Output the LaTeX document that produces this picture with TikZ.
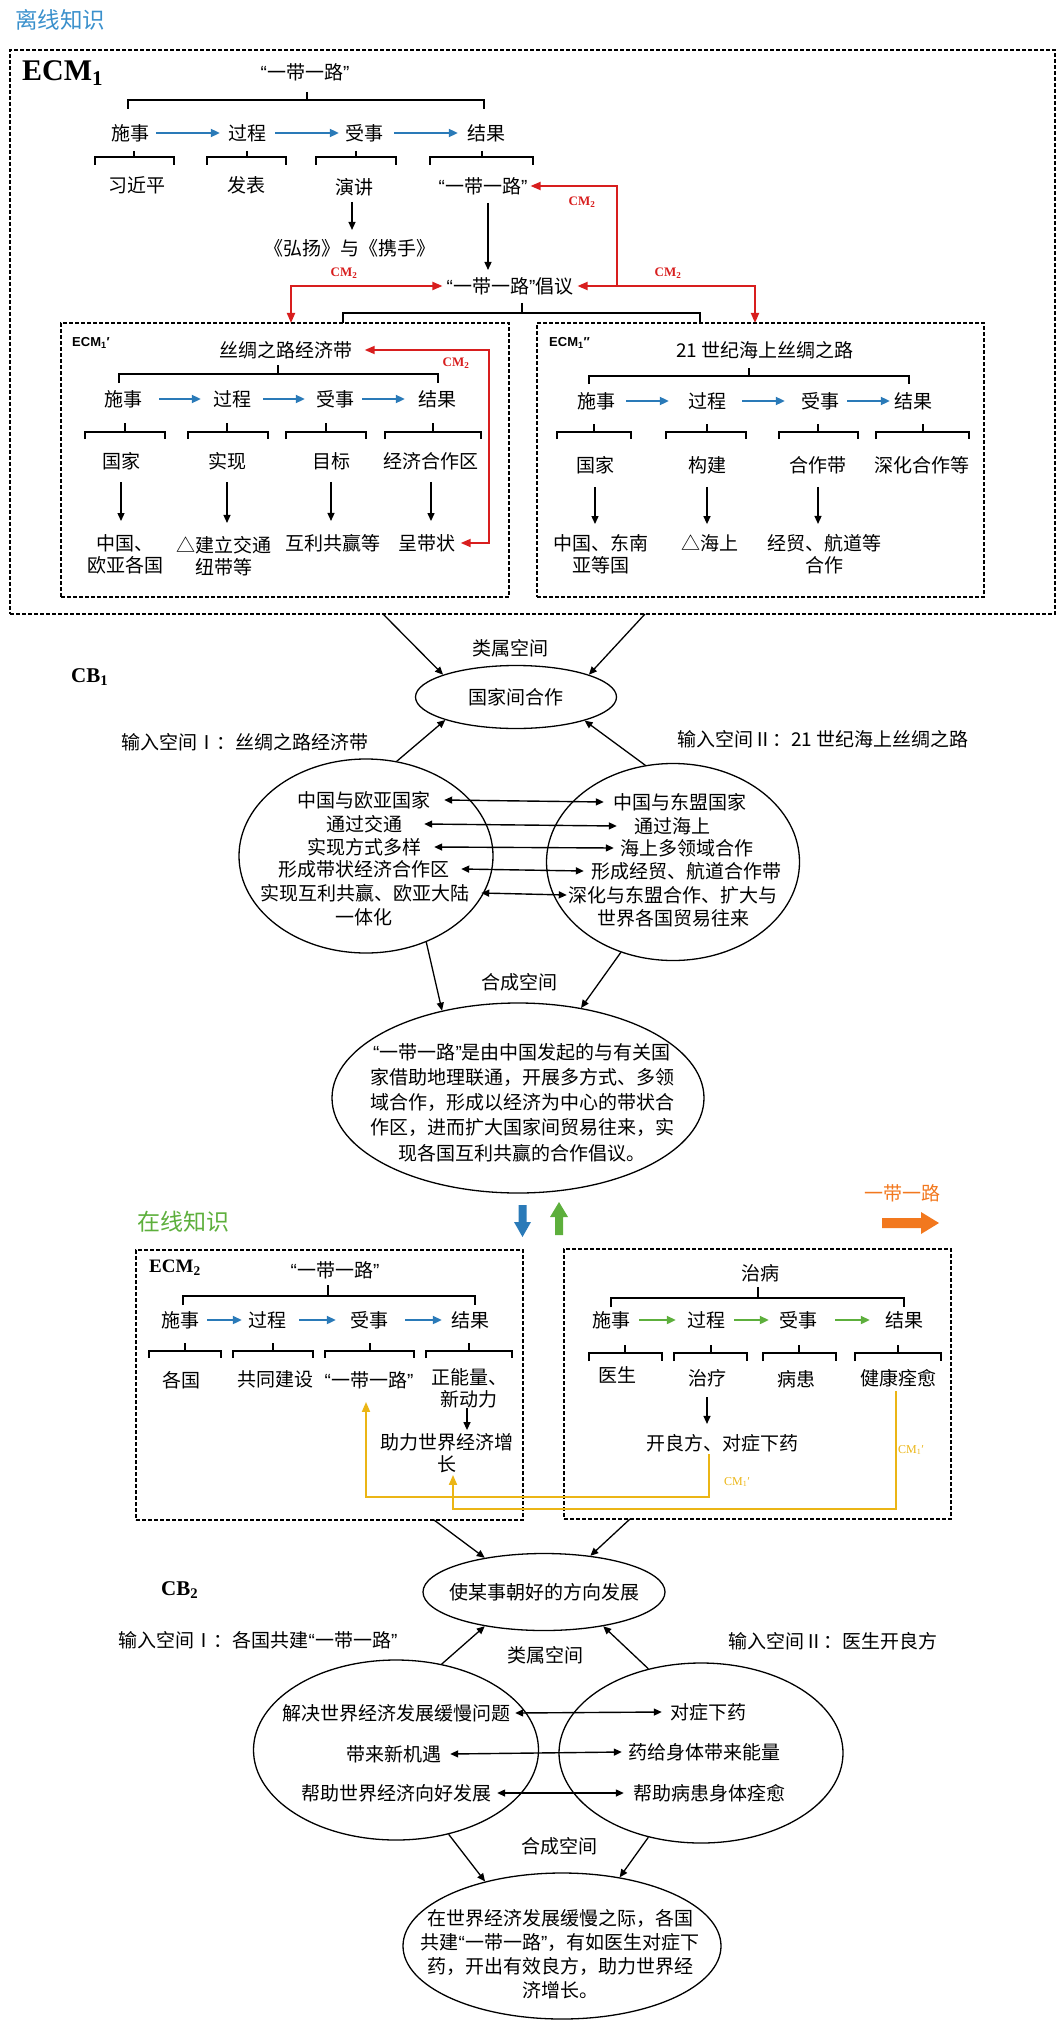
\documentclass[tikz,border=0pt]{standalone}
\usepackage{fontspec}
\setmainfont{Noto Sans CJK SC}
\newfontfamily\tnr{Liberation Serif}
\newfontfamily\ari{Liberation Sans}
\usetikzlibrary{arrows.meta,shapes.geometric}
\definecolor{bl}{HTML}{2A7AB8}
\definecolor{rd}{HTML}{D81E1E}
\definecolor{yl}{HTML}{EBB515}
\definecolor{gr}{HTML}{5DAF3C}
\definecolor{og}{HTML}{F2781E}
\definecolor{tb}{HTML}{3A90CC}
\newcommand\qq[1]{{\ari“}#1{\ari”}}
\newcommand\brkt[6]{\draw[brk] (#1,#6) -- (#1,#5) -- (#2,#5) -- (#2,#6); \draw[brk] (#3,#4) -- (#3,#5);}
\begin{document}
\begin{tikzpicture}[x=1pt,y=-1pt,
  tx/.style={inner sep=0pt,font=\fontsize{19}{22}\selectfont,align=center},
  brk/.style={line width=1.5pt},
  dbox/.style={draw,line width=1.5pt,dash pattern=on 4pt off 2pt,inner sep=0pt},
  karr/.style={line width=1.3pt,-{Triangle[length=8pt,width=7pt]}},
  darr/.style={line width=1.4pt,{Triangle[length=8pt,width=7pt]}-{Triangle[length=8pt,width=7pt]}},
  barr/.style={draw=bl,line width=2pt,-{Triangle[length=9pt,width=8pt]}},
  garr/.style={draw=gr,line width=2pt,-{Triangle[length=9pt,width=8pt]}},
  redln/.style={draw=rd,line width=1.8pt},
  rtip/.style={-{Triangle[length=10pt,width=8pt]}},
  rtip2/.style={{Triangle[length=10pt,width=8pt]}-{Triangle[length=10pt,width=8pt]}},
  yln/.style={draw=yl,line width=1.8pt,-{Triangle[length=10pt,width=8pt]}},
  ellnode/.style={draw,ellipse,line width=1.3pt,inner sep=0pt},
  cmlab/.style={inner sep=0pt,text=rd,font=\tnr\bfseries\fontsize{13}{13}\selectfont},
  cmylab/.style={inner sep=0pt,text=yl,font=\tnr\fontsize{12}{12}\selectfont},
  lbl/.style={inner sep=0pt,anchor=west}
]
\useasboundingbox (0,0) rectangle (1064,2025);

% ===== offline =====
\node[tx,font=\fontsize{22.5}{24}\selectfont,text=tb] (off) at (60,20) {离线知识};
\node[dbox,minimum width=1045pt,minimum height=564pt] (B0) at (532.5,332) {};
\node[lbl,font=\tnr\bfseries\fontsize{30}{30}\selectfont] (ecm1) at (22,73) {ECM\textsubscript{1}};
\node[tx] (p0) at (305,72) {\qq{一带一路}};
\brkt{128}{484}{307}{92}{100}{109}
\node[tx] (p1) at (130,133) {施事};
\node[tx] (p2) at (247,133) {过程};
\node[tx] (p3) at (364,133) {受事};
\node[tx] (p4) at (486,133) {结果};
\draw[barr] ([xshift=7pt]p1.east) -- ([xshift=-8pt]p2.west);
\draw[barr] ([xshift=9pt]p2.east) -- ([xshift=-6pt]p3.west);
\draw[barr] ([xshift=11pt]p3.east) -- ([xshift=-9pt]p4.west);
\brkt{95}{174}{134}{151}{157}{165}
\brkt{207}{286}{247}{151}{157}{165}
\brkt{316}{396}{356}{151}{157}{165}
\brkt{430}{533}{482}{151}{157}{165}
\node[tx] (q1) at (137,185) {习近平};
\node[tx] (q2) at (246,185) {发表};
\node[tx] (q3) at (354,187) {演讲};
\node[tx,inner xsep=3pt] (q4) at (483,186) {\qq{一带一路}};
\node[tx] (hy) at (350,248) {《弘扬》与《携手》};
\node[tx,inner xsep=4pt] (cy) at (510,286) {\qq{一带一路}倡议};
\draw[karr,shorten <=6pt,shorten >=9pt] ([xshift=-2pt]q3.south) -- ([xshift=-2pt]q3.south |- hy.north);
\draw[karr,shorten <=8pt,shorten >=7pt] ([xshift=5pt]q4.south) -- ([xshift=5pt]q4.south |- cy.north);
\coordinate (rA) at (291,323);
\coordinate (rB) at (755,323);
\coordinate (rJ) at (617,286);
\draw[redln,rtip2] (cy.west) -| (rA);
\draw[redln,rtip2] (cy.east) -| (rB);
\draw[redln,rtip] (rJ) |- (q4.east);
\node[cmlab] (cm1) at (582,202) {CM\textsubscript{2}};
\node[cmlab] (cm2) at (668,273) {CM\textsubscript{2}};
\node[cmlab] (cm3) at (344,273) {CM\textsubscript{2}};
\brkt{343}{700}{522}{303}{313}{323}

% ECM1'
\node[dbox,minimum width=448pt,minimum height=274pt] (BA) at (285,460) {};
\node[lbl,font=\ari\bfseries\fontsize{13}{13}\selectfont] (ecmA) at (72,343) {ECM\textsubscript{1}′};
\node[tx,inner xsep=12pt] (a0) at (286,350) {丝绸之路经济带};
\brkt{119}{438}{278}{365}{374}{383}
\node[tx] (a1) at (123,399) {施事};
\node[tx] (a2) at (232,399) {过程};
\node[tx] (a3) at (335,399) {受事};
\node[tx] (a4) at (437,399) {结果};
\draw[barr] ([xshift=17pt]a1.east) -- ([xshift=-12pt]a2.west);
\draw[barr] ([xshift=12pt]a2.east) -- ([xshift=-11pt]a3.west);
\draw[barr] ([xshift=8pt]a3.east) -- ([xshift=-13pt]a4.west);
\brkt{85}{165}{125}{423}{432}{439}
\brkt{188}{268}{227}{423}{432}{439}
\brkt{286}{366}{326}{423}{432}{439}
\brkt{385}{481}{433}{423}{432}{439}
\node[tx] (a1c) at (121,461) {国家};
\node[tx] (a2c) at (227,461) {实现};
\node[tx] (a3c) at (331,461) {目标};
\node[tx] (a4c) at (431,461) {经济合作区};
\node[tx] (a1d) at (125,554) {中国、\\欧亚各国};
\node[tx] (a2d) at (224,556) {△建立交通\\纽带等};
\node[tx] (a3d) at (333,543) {互利共赢等};
\node[tx,inner xsep=5pt] (a4d) at (427,543) {呈带状};
\foreach \u/\v in {a1c/a1d,a2c/a2d,a3c/a3d,a4c/a4d}
  \draw[karr,shorten <=12pt,shorten >=13pt] (\u.south) -- (\u.south |- \v.north);
\coordinate (rC) at (489,543);
\draw[redln,rtip2] (a0.east) -| (rC) -- (a4d.east);
\node[cmlab] (cm4) at (456,363) {CM\textsubscript{2}};

% ECM1''
\node[dbox,minimum width=447pt,minimum height=274pt] (BB) at (760.5,460) {};
\node[lbl,font=\ari\bfseries\fontsize{13}{13}\selectfont] (ecmB) at (549,343) {ECM\textsubscript{1}″};
\node[tx] (b0) at (765,350) {21 世纪海上丝绸之路};
\brkt{589}{909}{749}{368}{376}{384}
\node[tx] (b1) at (596,401) {施事};
\node[tx] (b2) at (707,401) {过程};
\node[tx] (b3) at (820,401) {受事};
\node[tx] (b4) at (913,401) {结果};
\draw[barr] ([xshift=11pt]b1.east) -- ([xshift=-19pt]b2.west);
\draw[barr] ([xshift=16pt]b2.east) -- ([xshift=-16pt]b3.west);
\draw[barr] ([xshift=8pt]b3.east) -- ([xshift=-4pt]b4.west);
\brkt{557}{631}{594}{424}{432}{439}
\brkt{666}{746}{707}{424}{432}{439}
\brkt{779}{858}{818}{424}{432}{439}
\brkt{876}{969}{923}{424}{432}{439}
\node[tx] (b1c) at (595,465) {国家};
\node[tx] (b2c) at (707,465) {构建};
\node[tx] (b3c) at (818,465) {合作带};
\node[tx] (b4c) at (922,465) {深化合作等};
\node[tx] (b1d) at (601,554) {中国、东南\\亚等国};
\node[tx] (b2d) at (710,543) {△海上};
\node[tx] (b3d) at (824,554) {经贸、航道等\\合作};
\foreach \u/\v in {b1c/b1d,b2c/b2d,b3c/b3d}
  \draw[karr,shorten <=13pt,shorten >=10pt] (\u.south) -- (\u.south |- \v.north);

% ===== CB1 =====
\coordinate (o1) at (383,614);
\coordinate (o2) at (645,614);
\node[tx] (gs1) at (510,648) {类属空间};
\node[lbl,font=\tnr\bfseries\fontsize{21}{21}\selectfont] (cb1) at (71,677) {CB\textsubscript{1}};
\node[ellnode,minimum width=201pt,minimum height=63pt] (e1) at (516,697) {};
\node[tx] (e1t) at (516,697) {国家间合作};
\node[tx] (in1) at (245,742) {输入空间Ⅰ：丝绸之路经济带};
\node[tx] (in2) at (823,739) {输入空间Ⅱ：21 世纪海上丝绸之路};
\node[ellnode,minimum width=254pt,minimum height=194pt] (eL) at (366,856) {};
\node[ellnode,minimum width=253pt,minimum height=197pt] (eR) at (673,862) {};
\node[tx] (l1) at (364,800) {中国与欧亚国家};
\node[tx] (l2) at (364,824) {通过交通};
\node[tx] (l3) at (364,847) {实现方式多样};
\node[tx] (l4) at (364,869) {形成带状经济合作区};
\node[tx] (l5) at (365,893) {实现互利共赢、欧亚大陆};
\node[tx] (l6) at (364,917) {一体化};
\node[tx] (r1) at (680,802) {中国与东盟国家};
\node[tx] (r2) at (672,826) {通过海上};
\node[tx] (r3) at (687,848) {海上多领域合作};
\node[tx] (r4) at (686,871) {形成经贸、航道合作带};
\node[tx] (r5) at (673,895) {深化与东盟合作、扩大与};
\node[tx] (r6) at (673,918) {世界各国贸易往来};
\draw[darr] ([xshift=13.5pt]l1.east) -- ([xshift=-9.5pt]r1.west);
\draw[darr] ([xshift=22pt]l2.east) -- ([xshift=-17pt]r2.west);
\draw[darr] ([xshift=13pt]l3.east) -- ([xshift=-6.5pt]r3.west);
\draw[darr] ([xshift=11.5pt]l4.east) -- ([xshift=-7pt]r4.west);
\draw[darr] ([xshift=11.5pt]l5.east) -- ([xshift=-1.5pt]r5.west);
\draw[karr] (o1) -- (e1.163);
\draw[karr] (o2) -- (e1.17);
\draw[karr] (eL.72) -- (e1.198);
\draw[karr] (eR.106) -- (e1.341);
\node[tx] (hc1) at (519,982) {合成空间};
\node[ellnode,minimum width=372pt,minimum height=190pt] (eC) at (518,1098) {};
\node[tx,font=\fontsize{19}{25.2}\selectfont] (eCt) at (522,1102.5)
  {\qq{一带一路}是由中国发起的与有关国\\家借助地理联通，开展多方式、多领\\域合作，形成以经济为中心的带状合\\作区，进而扩大国家间贸易往来，实\\现各国互利共赢的合作倡议。};
\draw[karr] (eL.305) -- (eC.131);
\draw[karr] (eR.240) -- (eC.55);

% ===== online =====
\node[tx,font=\fontsize{23}{24}\selectfont,text=gr] (on) at (183,1222) {在线知识};
\fill[bl] (518.5,1205) -- (526.5,1205) -- (526.5,1222) -- (531,1222) -- (522.5,1237) -- (514,1222) -- (518.5,1222) -- cycle;
\fill[gr] (555,1235) -- (563,1235) -- (563,1217) -- (568,1217) -- (559,1202) -- (550,1217) -- (555,1217) -- cycle;
\node[tx,text=og] (ydl) at (902,1193) {一带一路};
\fill[og] (882,1218) -- (921,1218) -- (921,1212) -- (939,1223) -- (921,1234) -- (921,1228) -- (882,1228) -- cycle;

% ECM2
\node[dbox,minimum width=387pt,minimum height=270pt] (BC) at (329.5,1385) {};
\node[lbl,font=\tnr\bfseries\fontsize{19}{19}\selectfont] (ecm2) at (149,1268) {ECM\textsubscript{2}};
\node[tx] (c0) at (335,1270) {\qq{一带一路}};
\brkt{183}{475}{328}{1285}{1296}{1305}
\node[tx] (c1) at (180,1320) {施事};
\node[tx] (c2) at (267,1320) {过程};
\node[tx] (c3) at (369,1320) {受事};
\node[tx] (c4) at (470,1320) {结果};
\draw[barr] ([xshift=8pt]c1.east) -- ([xshift=-6pt]c2.west);
\draw[barr] ([xshift=13pt]c2.east) -- ([xshift=-14pt]c3.west);
\draw[barr] ([xshift=17pt]c3.east) -- ([xshift=-9pt]c4.west);
\brkt{149}{221}{185}{1343}{1351}{1358}
\brkt{233}{313}{273}{1343}{1351}{1358}
\brkt{325}{414}{370}{1343}{1351}{1358}
\brkt{426}{512}{469}{1343}{1351}{1358}
\node[tx] (c1c) at (181,1380) {各国};
\node[tx] (c2c) at (275,1379) {共同建设};
\node[tx] (c3c) at (369,1380) {\qq{一带一路}};
\node[tx] (c4c) at (469,1388) {正能量、\\新动力};
\node[tx] (zl) at (447,1453) {助力世界经济增\\长};
\draw[karr,shorten >=3pt] ([xshift=-2pt]c4c.south) -- ([xshift=-2pt]c4c.south |- zl.north);

% right box
\node[dbox,minimum width=387pt,minimum height=270pt] (BD) at (757.5,1384) {};
\node[tx] (d0) at (760,1273) {治病};
\brkt{611}{904}{758}{1287}{1298}{1307}
\node[tx] (d1) at (611,1320) {施事};
\node[tx] (d2) at (706,1320) {过程};
\node[tx] (d3) at (798,1320) {受事};
\node[tx] (d4) at (904,1320) {结果};
\draw[garr] ([xshift=9pt]d1.east) -- ([xshift=-11pt]d2.west);
\draw[garr] ([xshift=9pt]d2.east) -- ([xshift=-10pt]d3.west);
\draw[garr] ([xshift=18pt]d3.east) -- ([xshift=-15pt]d4.west);
\brkt{589}{662}{625}{1345}{1353}{1361}
\brkt{674}{747}{711}{1345}{1353}{1361}
\brkt{763}{836}{799}{1345}{1353}{1361}
\brkt{855}{941}{898}{1345}{1353}{1361}
\node[tx] (d1c) at (617,1375) {医生};
\node[tx] (d2c) at (707,1378) {治疗};
\node[tx] (d3c) at (796,1379) {病患};
\node[tx] (d4c) at (898,1378) {健康痊愈};
\node[tx] (kl) at (722,1443) {开良方、对症下药};
\draw[karr,shorten <=10pt,shorten >=10pt] (d2c.south) -- (d2c.south |- kl.north);

% yellow CM1'
\coordinate (yA) at (709,1497);
\coordinate (yB) at (366,1497);
\coordinate (yC) at (896,1509);
\coordinate (yD) at (453,1509);
\draw[yln,shorten <=2pt,shorten >=13pt] (kl.south -| yA) -- (yA) -- (yB) -- (yB |- c3c.south);
\draw[yln,shorten <=4pt,shorten >=2pt] (d4c.south -| yC) -- (yC) -- (yD) -- (yD |- zl.south);
\node[cmylab] (cy1) at (737,1482) {CM\textsubscript{1}′};
\node[cmylab] (cy2) at (911,1450) {CM\textsubscript{1}′};

% ===== CB2 =====
\coordinate (o3) at (434,1520);
\coordinate (o4) at (630,1519);
\node[ellnode,minimum width=242pt,minimum height=77pt] (e2) at (544,1592) {};
\node[tx] (e2t) at (544,1592) {使某事朝好的方向发展};
\node[lbl,font=\tnr\bfseries\fontsize{21}{21}\selectfont] (cb2) at (161,1590) {CB\textsubscript{2}};
\node[tx] (in3) at (258,1640) {输入空间Ⅰ：各国共建\qq{一带一路}};
\node[tx] (in4) at (833,1641) {输入空间Ⅱ：医生开良方};
\node[tx] (gs2) at (545,1655) {类属空间};
\node[ellnode,minimum width=285pt,minimum height=180pt] (f1) at (396,1750) {};
\node[ellnode,minimum width=284pt,minimum height=180pt] (f2) at (701,1753) {};
\node[tx] (m1) at (396,1713) {解决世界经济发展缓慢问题};
\node[tx] (m2) at (394,1754) {带来新机遇};
\node[tx] (m3) at (396,1793) {帮助世界经济向好发展};
\node[tx] (n1) at (708,1712) {对症下药};
\node[tx] (n2) at (704,1752) {药给身体带来能量};
\node[tx] (n3) at (709,1793) {帮助病患身体痊愈};
\draw[darr] ([xshift=5pt]m1.east) -- ([xshift=-8pt]n1.west);
\draw[darr] ([xshift=8.5pt]m2.east) -- ([xshift=-6pt]n2.west);
\draw[darr] ([xshift=6pt]m3.east) -- ([xshift=-9pt]n3.west);
\draw[karr] (o3) -- (e2.150);
\draw[karr] (o4) -- (e2.38);
\draw[karr] (f1.62) -- (e2.210);
\draw[karr] (f2.122) -- (e2.330);
\node[tx] (hc2) at (559,1846) {合成空间};
\node[ellnode,minimum width=318pt,minimum height=146pt] (g) at (562,1946) {};
\node[tx,font=\fontsize{19}{24}\selectfont] (gt) at (560,1954)
  {在世界经济发展缓慢之际，各国\\共建\qq{一带一路}，有如医生对症下\\药，开出有效良方，助力世界经\\济增长。};
\draw[karr] (f1.302) -- (g.140);
\draw[karr] (f2.238) -- (g.50);
\end{tikzpicture}
\end{document}
